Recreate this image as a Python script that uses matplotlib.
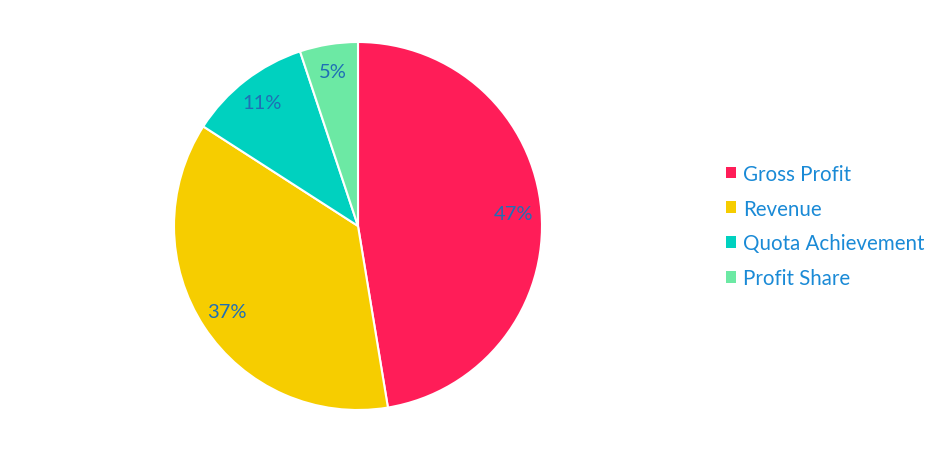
import matplotlib.pyplot as plt
from matplotlib.patches import Patch

# ==========================
# DATA
# ==========================

labels = ["Gross Profit", "Revenue", "Quota Achievement", "Profit Share"]
values = [47.4, 36.7, 10.8, 5.1]
colors = ["#FF1D58", "#F6CD00", "#00D1BF", "#6CE9A4"]

plt.rcParams["font.family"] = ["Lato", "DejaVu Sans"]

# ==========================
# PLOT
# ==========================

fig = plt.figure(figsize=(9.4, 4.56), dpi=100)
ax = fig.add_axes([174 / 940, 45 / 456, 368 / 940, 368 / 456])

wedges, texts, autotexts = ax.pie(
    values,
    colors=colors,
    startangle=90,
    counterclock=False,
    autopct="%1.0f%%",
    pctdistance=0.85,
    wedgeprops={"edgecolor": "white", "linewidth": 1.5},
    textprops={"color": "#1F6FB5", "fontsize": 14.5},
)
ax.set_xlim(-1, 1)
ax.set_ylim(-1, 1)

handles = [Patch(facecolor=c, edgecolor="none") for c in colors]
fig.legend(
    handles,
    labels,
    loc="center left",
    bbox_to_anchor=(726 / 940, 1 - 227 / 456),
    frameon=False,
    fontsize=14.8,
    labelcolor="#1A8AD6",
    handlelength=0.5,
    handleheight=0.5,
    handletextpad=0.35,
    labelspacing=0.72,
    borderpad=0,
    borderaxespad=0,
)

fig.savefig("out.png", dpi=100)
